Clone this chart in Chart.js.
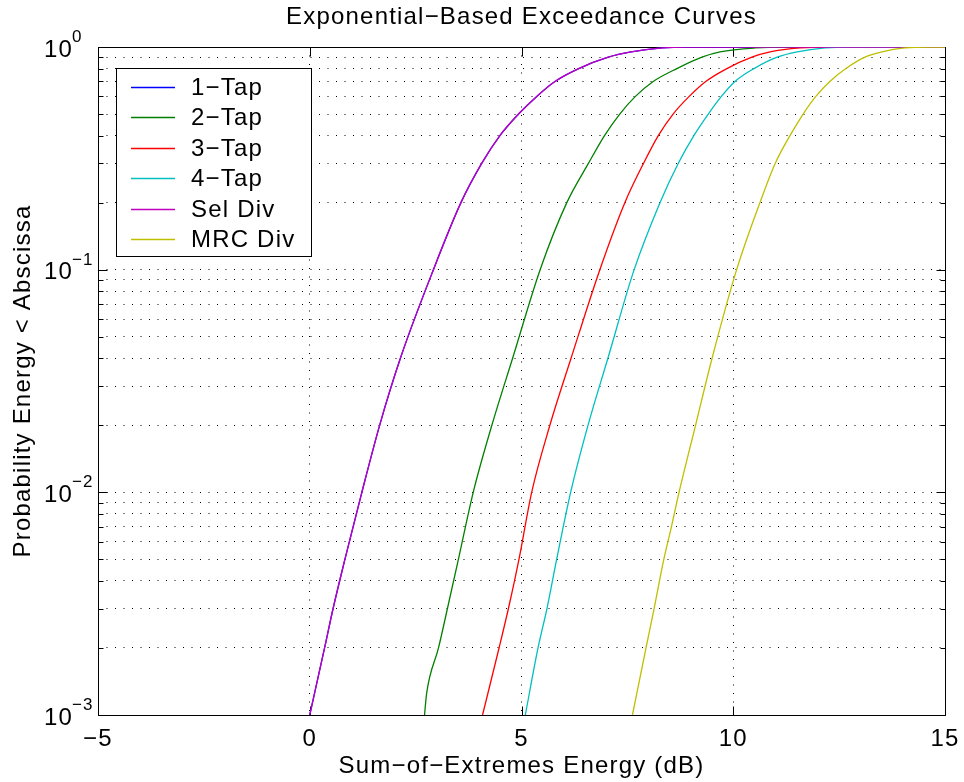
<!DOCTYPE html>
<html>
<head>
<meta charset="utf-8">
<title>Exponential−Based Exceedance Curves</title>
<script src="https://cdn.jsdelivr.net/npm/chart.js@4.4.0/dist/chart.umd.min.js"></script>
<style>
    html, body { margin: 0; padding: 0; background: #fff; }
    #chart { display: block; }
</style>
</head>
<body>
<canvas id="chart" width="964" height="782"></canvas>
<script>
// series names and colours (MATLAB default order)
const seriesNames = ['1−Tap', '2−Tap', '3−Tap', '4−Tap', 'Sel Div', 'MRC Div'];
const seriesColors = ['#0000ff', '#008000', '#ff0000', '#00bfbf', '#bf00bf', '#bfbf00'];

// curve points: energy (dB) and probability
const tap1X = [0.00, 0.35, 0.55, 0.83, 1.23, 1.65, 2.14, 2.92, 3.57, 4.06, 4.49, 4.93, 5.36, 5.79, 6.35, 7.05, 7.59, 8.32, 8.86, 15];
const tap1Y = [0.001, 0.002, 0.003, 0.005, 0.01, 0.02, 0.04, 0.1, 0.2, 0.3, 0.4, 0.5, 0.6, 0.7, 0.8, 0.9, 0.95, 0.99, 1, 1];

const tap2X = [2.71, 2.76, 3.04, 3.25, 3.51, 3.86, 4.30, 4.79, 5.44, 6.07, 6.58, 6.96, 7.32, 7.69, 8.11, 8.67, 9.26, 9.69, 10.52, 11.22, 15];
const tap2Y = [0.001, 0.00125, 0.002, 0.003, 0.005, 0.01, 0.02, 0.04, 0.1, 0.2, 0.3, 0.4, 0.5, 0.6, 0.7, 0.8, 0.9, 0.95, 0.99, 1, 1];

const tap3X = [4.08, 4.47, 4.69, 4.94, 5.24, 5.67, 6.17, 6.85, 7.44, 7.88, 8.23, 8.58, 8.96, 9.35, 9.85, 10.44, 10.87, 11.58, 12.28, 15];
const tap3Y = [0.001, 0.002, 0.003, 0.005, 0.01, 0.02, 0.04, 0.1, 0.2, 0.3, 0.4, 0.5, 0.6, 0.7, 0.8, 0.9, 0.95, 0.99, 1, 1];

const tap4X = [5.09, 5.39, 5.60, 5.83, 6.16, 6.57, 7.04, 7.66, 8.27, 8.70, 9.07, 9.41, 9.72, 10.04, 10.49, 11.04, 11.51, 12.17, 12.76, 15];
const tap4Y = [0.001, 0.002, 0.003, 0.005, 0.01, 0.02, 0.04, 0.1, 0.2, 0.3, 0.4, 0.5, 0.6, 0.7, 0.8, 0.9, 0.95, 0.99, 1, 1];

// selection diversity sits on top of the 1-tap curve
const selDivX = [0.00, 0.35, 0.55, 0.83, 1.23, 1.65, 2.14, 2.92, 3.57, 4.06, 4.49, 4.93, 5.36, 5.79, 6.35, 7.05, 7.59, 8.32, 8.86, 15];
const selDivY = [0.001, 0.002, 0.003, 0.005, 0.01, 0.02, 0.04, 0.1, 0.2, 0.3, 0.4, 0.5, 0.6, 0.7, 0.8, 0.9, 0.95, 0.99, 1, 1];

const mrcDivX = [7.62, 7.94, 8.13, 8.36, 8.54, 8.72, 9.11, 9.50, 10.08, 10.63, 10.99, 11.34, 11.65, 11.95, 12.28, 12.66, 13.11, 13.51, 14.05, 14.65, 15];
const mrcDivY = [0.001, 0.002, 0.003, 0.005, 0.007, 0.01, 0.02, 0.04, 0.1, 0.2, 0.3, 0.4, 0.5, 0.6, 0.7, 0.8, 0.9, 0.95, 0.99, 1, 1];

// axes
const xTicks = [-5, 0, 5, 10, 15];
const yDecades = [0.001, 0.01, 0.1, 1];
const yMinorSteps = [2, 3, 4, 5, 6, 7, 8, 9];

const FONT = '"Liberation Sans", Arial, Helvetica, sans-serif';
const SPACING = '1.2px';

const toPoints = (xs, ys) => xs.map((x, i) => ({ x, y: ys[i] }));
const seriesX = [tap1X, tap2X, tap3X, tap4X, selDivX, mrcDivX];
const seriesY = [tap1Y, tap2Y, tap3Y, tap4Y, selDivY, mrcDivY];

const yTickValues = [];
yDecades.forEach((d, i) => {
    yTickValues.push(d);
    if (i < yDecades.length - 1) yMinorSteps.forEach(m => yTickValues.push(+(m * d).toPrecision(3)));
});

const minus = v => (v < 0 ? '\u2212' + Math.abs(v) : String(v));

// text in the original figure is drawn a little wider than Arial
const wideText = {
    id: 'wideText',
    beforeLayout(chart) { chart.ctx.letterSpacing = SPACING; },
    beforeDraw(chart) { chart.ctx.letterSpacing = SPACING; }
};

// axes box and inward tick marks, drawn under the curves
const axesBox = {
    id: 'axesBox',
    beforeDatasetsDraw(chart) {
        const { ctx, chartArea: a, scales: { x, y } } = chart;
        const L = Math.round(a.left) + 0.5, R = Math.round(a.right) + 0.5;
        const T = Math.round(a.top) + 0.5, B = Math.round(a.bottom) + 0.5;
        ctx.save();
        ctx.strokeStyle = '#000';
        ctx.lineWidth = 1;
        ctx.setLineDash([]);
        ctx.beginPath();
        x.ticks.forEach(t => {
            const px = Math.round(x.getPixelForValue(t.value)) + 0.5;
            ctx.moveTo(px, B); ctx.lineTo(px, B - 9);
            ctx.moveTo(px, T); ctx.lineTo(px, T + 9);
        });
        y.ticks.forEach(t => {
            const len = yDecades.includes(t.value) ? 9 : 5;
            const py = Math.round(y.getPixelForValue(t.value)) + 0.5;
            ctx.moveTo(L, py); ctx.lineTo(L + len, py);
            ctx.moveTo(R, py); ctx.lineTo(R - len, py);
        });
        ctx.stroke();
        ctx.strokeRect(L, T, R - L, B - T);
        ctx.restore();
    },
    afterDraw(chart) {
        // exponents of the 10^n labels
        const { ctx, scales: { y } } = chart;
        ctx.save();
        ctx.letterSpacing = '1px';
        ctx.font = '17px ' + FONT;
        ctx.fillStyle = '#000';
        ctx.textAlign = 'left';
        ctx.textBaseline = 'alphabetic';
        yDecades.forEach(d => {
            const py = y.getPixelForValue(d);
            ctx.fillText(minus(Math.round(Math.log10(d))), 72, py - 5);
        });
        ctx.restore();
    }
};

// legend box in the upper left corner of the axes
const boxLegend = {
    id: 'boxLegend',
    afterDraw(chart) {
        const { ctx, chartArea: a } = chart;
        const left = Math.round(a.left + 18), top = Math.round(a.top + 21);
        const w = 195, h = 188;
        ctx.save();
        ctx.fillStyle = '#fff';
        ctx.fillRect(left, top, w, h);
        ctx.strokeStyle = '#000';
        ctx.lineWidth = 1;
        ctx.strokeRect(left + 0.5, top + 0.5, w, h);
        ctx.font = '24px ' + FONT;
        ctx.textBaseline = 'middle';
        ctx.textAlign = 'left';
        chart.data.datasets.forEach((ds, i) => {
            const yy = Math.round(top + 18.5 + i * 30.5) + 0.5;
            ctx.strokeStyle = ds.borderColor;
            ctx.lineWidth = 1.5;
            ctx.beginPath();
            ctx.moveTo(left + 15, yy);
            ctx.lineTo(left + 59, yy);
            ctx.stroke();
            ctx.fillStyle = '#000';
            ctx.fillText(ds.label, left + 75, yy + 1);
        });
        ctx.restore();
    }
};

const datasets = seriesNames.map((name, i) => ({
    label: name,
    data: toPoints(seriesX[i], seriesY[i]),
    borderColor: seriesColors[i],
    backgroundColor: seriesColors[i],
    borderWidth: 1.3,
    pointRadius: 0,
    fill: false,
    cubicInterpolationMode: 'monotone',
    order: seriesNames.length - i
}));

new Chart(document.getElementById('chart'), {
    type: 'line',
    data: { datasets },
    options: {
        responsive: false,
        animation: false,
        layout: { padding: { left: 0, right: 19, top: 0, bottom: 0 } },
        plugins: {
            legend: { display: false },
            tooltip: { enabled: false },
            title: {
                display: true,
                fullSize: false,
                text: 'Exponential\u2212Based Exceedance Curves',
                color: '#000',
                font: { family: FONT, size: 24, weight: 'normal', lineHeight: 1.2 },
                padding: { top: 3, bottom: 15.2 }
            }
        },
        scales: {
            x: {
                type: 'linear',
                min: -5,
                max: 15,
                afterBuildTicks: s => { s.ticks = xTicks.map(v => ({ value: v })); },
                afterFit: s => { s.height = 67; s.paddingLeft = 0; s.paddingRight = 0; },
                ticks: {
                    autoSkip: false,
                    maxRotation: 0,
                    color: '#000',
                    padding: 10,
                    font: { family: FONT, size: 24 },
                    callback: v => minus(v)
                },
                grid: {
                    drawTicks: false,
                    lineWidth: 1,
                    color: c => (c.tick && (c.tick.value === -5 || c.tick.value === 15) ? 'rgba(0,0,0,0)' : '#000')
                },
                border: { display: false, dash: [1, 7.5] },
                title: {
                    display: true,
                    text: 'Sum\u2212of\u2212Extremes Energy (dB)',
                    color: '#000',
                    font: { family: FONT, size: 24, lineHeight: 1.2 },
                    padding: { top: 0, bottom: 1 }
                }
            },
            y: {
                type: 'logarithmic',
                min: 0.001,
                max: 1,
                afterBuildTicks: s => { s.ticks = yTickValues.map(v => ({ value: v })); },
                afterFit: s => { s.width = 98; s.paddingTop = 0; s.paddingBottom = 0; },
                ticks: {
                    autoSkip: false,
                    color: '#000',
                    padding: 25,
                    labelOffset: 3,
                    font: { family: FONT, size: 24 },
                    callback: v => (yDecades.includes(v) ? '10' : '')
                },
                grid: {
                    drawTicks: false,
                    lineWidth: 1,
                    color: c => (c.tick && (c.tick.value === 0.001 || c.tick.value === 1) ? 'rgba(0,0,0,0)' : '#000')
                },
                border: { display: false, dash: [1, 7.5] },
                title: {
                    display: true,
                    text: 'Probability Energy < Abscissa',
                    color: '#000',
                    font: { family: FONT, size: 24, lineHeight: 1.2 },
                    padding: { top: 9, bottom: 0 }
                }
            }
        }
    },
    plugins: [wideText, axesBox, boxLegend]
});
</script>
</body>
</html>
